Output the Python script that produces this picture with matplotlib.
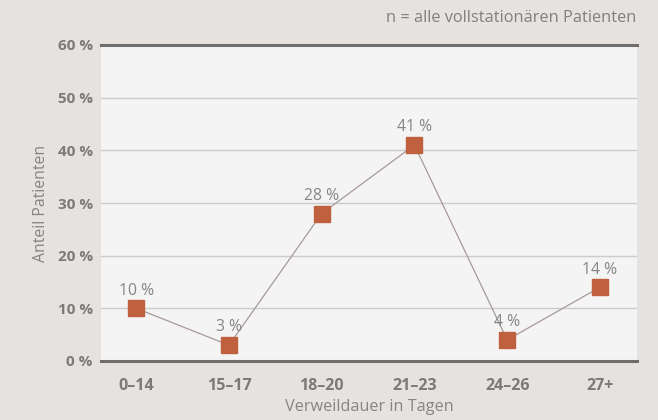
import matplotlib.pyplot as plt

plt.rcParams['font.family'] = ['Open Sans', 'DejaVu Sans']

# Verweildauer-Klassen und Anteil der Patienten in Prozent
kategorien = ['0–14', '15–17', '18–20', '21–23', '24–26', '27+']
anteil = [10, 3, 28, 41, 4, 14]
y_ticks = [0, 10, 20, 30, 40, 50, 60]

bg = '#e6e2df'
grau = '#7a7a7a'

fig = plt.figure(figsize=(6.58, 4.2), dpi=100, facecolor=bg)
ax = fig.add_axes([101 / 658, 1 - 361 / 420, 536 / 658, 316 / 420])
ax.set_facecolor('#f4f4f4')

x = list(range(len(kategorien)))
ax.plot(x, anteil, color='#a8999a', lw=0.9, zorder=3)
ax.plot(x, anteil, ls='none', marker='s', ms=11, color='#bf603e', zorder=4)

for xi, v in zip(x, anteil):
    ax.annotate(f'{v} %', (xi, v), xytext=(0, 7), textcoords='offset points',
                ha='center', va='bottom', fontsize=11.3, color='#858585')

ax.set_xlim(-0.38, 5.4)
ax.set_ylim(0, 60)
ax.set_yticks(y_ticks)
ax.set_yticklabels([f'{t} %' for t in y_ticks])
ax.set_xticks(x)
ax.set_xticklabels(kategorien)
ax.tick_params(axis='both', length=0, labelcolor=grau)
ax.tick_params(axis='y', pad=6, labelsize=11)
ax.tick_params(axis='x', pad=12, labelsize=11.5)
for lbl in ax.get_xticklabels() + ax.get_yticklabels():
    lbl.set_fontweight('bold')

ax.grid(axis='y', color='#cbcbcb', lw=1)
ax.set_axisbelow(True)
for s in ['left', 'right']:
    ax.spines[s].set_visible(False)
for s in ['top', 'bottom']:
    ax.spines[s].set_color('#6e6e6e')
    ax.spines[s].set_linewidth(2.2)

ax.set_ylabel('Anteil Patienten', fontsize=11.3, color='#858585', labelpad=6)
ax.set_xlabel('Verweildauer in Tagen', fontsize=11.7, color='#858585', labelpad=4)

fig.text(636 / 658, 1 - 18 / 420, 'n = alle vollstationären Patienten',
         ha='right', va='center', fontsize=11.8, color='#808080')

fig.savefig('out.png', dpi=100, facecolor=bg)
